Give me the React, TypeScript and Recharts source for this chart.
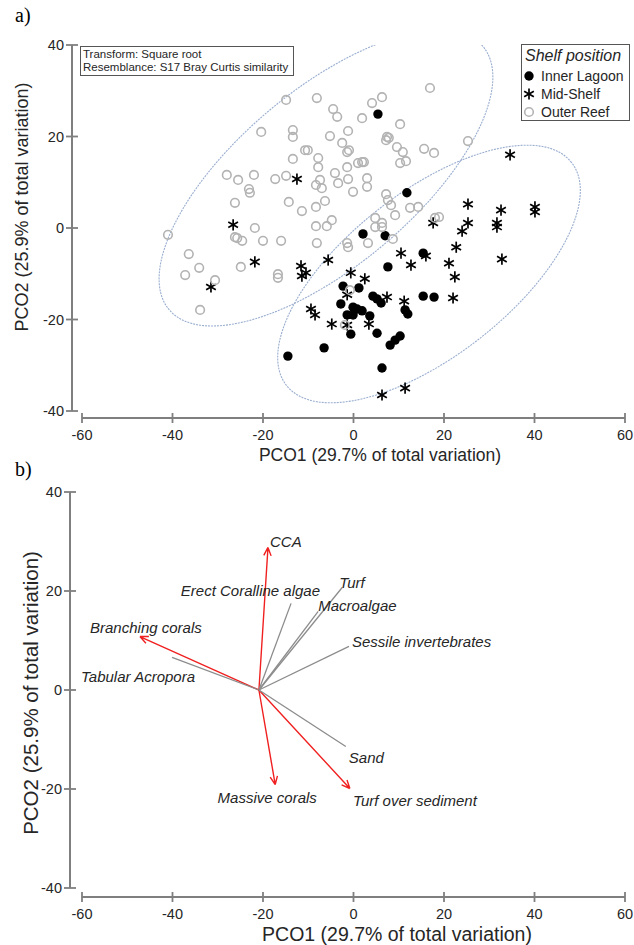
import React from 'react';
import { ComposedChart, Scatter, XAxis, YAxis, ReferenceLine } from 'recharts';

const xTicks = [-60, -40, -20, 0, 20, 40, 60];
const yTicks = [-40, -20, 0, 20, 40];

// panel a: PCO scores by shelf position
const innerLagoon: [number, number][] = [
  [5.4, 24.9], [11.8, 7.7], [2.1, -1.3], [7.0, -1.7], [15.4, -5.5], [7.6, -8.5],
  [-2.3, -12.7], [1.2, -13.1], [4.3, -14.9], [5.2, -15.5], [6.1, -16.4], [-2.8, -16.6],
  [-0.1, -17.3], [0.8, -17.7], [1.9, -18.1], [-1.4, -19.0], [-0.1, -19.0], [3.6, -19.2],
  [11.4, -17.9], [12.0, -18.8], [15.4, -14.9], [17.8, -15.1], [-0.6, -23.2], [5.2, -23.0],
  [8.1, -25.6], [9.2, -24.5], [10.3, -23.6], [-6.5, -26.2], [6.3, -30.6], [-14.5, -28.0],
];

const midShelf: [number, number][] = [
  [-12.5, 10.7], [-26.6, 0.7], [-21.8, -7.4], [-31.5, -12.9], [-11.6, -8.3], [-11.4, -10.5],
  [-10.5, -9.8], [-9.4, -17.7], [-8.5, -19.0], [-5.6, -7.0], [-0.6, -9.8], [2.5, -11.1],
  [-1.4, -14.6], [7.4, -15.1], [11.2, -16.0], [10.5, -5.5], [12.7, -8.1], [16.0, -6.1],
  [17.6, 1.1], [21.1, -7.7], [22.7, -4.2], [24.0, -0.7], [25.3, 1.1], [25.3, 5.2],
  [32.6, 3.9], [31.7, 1.1], [31.7, 0.2], [40.1, 4.6], [40.1, 3.5], [32.8, -6.8],
  [22.4, -10.7], [22.0, -15.3], [-4.8, -21.0], [3.4, -21.0], [-1.4, -21.2], [6.3, -36.5],
  [11.4, -35.0], [34.6, 16.0],
];

const outerReef: [number, number][] = [
  [-14.9, 28.0], [-8.1, 28.4], [-20.4, 21.0], [-13.4, 21.4], [-13.4, 19.9], [-10.7, 17.0],
  [-10.1, 17.0], [-13.4, 15.1], [-28.0, 11.6], [-25.5, 10.5], [-22.0, 11.6], [-17.3, 10.7],
  [-14.9, 11.4], [-8.3, 9.4], [-23.1, 8.5], [-22.9, 7.7], [-26.2, 5.5], [-14.3, 5.7],
  [-11.4, 3.7], [-8.3, 4.6], [-21.8, 0.0], [-8.3, 0.4], [-41.0, -1.5], [-4.5, 26.0],
  [-3.6, 24.3], [1.9, 24.0], [4.1, 27.3], [6.3, 28.6], [16.9, 30.6], [10.3, 22.7],
  [-1.2, 21.2], [-5.2, 20.1], [-2.5, 18.6], [-1.4, 16.6], [-1.0, 17.0], [7.4, 19.9],
  [7.8, 19.7], [7.2, 19.2], [9.6, 17.7], [10.9, 16.6], [10.3, 14.2], [11.6, 14.6],
  [15.6, 17.3], [17.8, 16.4], [25.3, 19.0], [-7.8, 15.3], [-7.8, 13.3], [-4.1, 12.0],
  [-1.4, 13.3], [1.0, 14.2], [1.9, 14.4], [2.3, 14.4], [3.0, 10.9], [-7.4, 10.5],
  [-7.0, 8.7], [-3.4, 9.8], [-1.2, 10.7], [-0.1, 7.9], [3.0, 9.0], [7.2, 7.4],
  [7.6, 6.1], [8.3, 5.0], [12.5, 4.4], [14.3, 4.6], [18.0, 2.2], [18.9, 2.4],
  [-6.3, 5.9], [-36.4, -5.7], [-37.2, -10.3], [-34.1, -8.7], [-30.6, -11.4], [-33.9, -17.9],
  [-26.2, -2.0], [-25.7, -2.2], [-24.6, -2.8], [-20.0, -2.8], [-16.0, -2.8], [-24.9, -8.5],
  [-16.7, -10.1], [-16.7, -10.9], [-8.1, -3.3], [-5.9, 0.4], [-4.8, 1.7], [-1.4, -3.3],
  [-1.2, -4.2], [3.2, -3.3], [4.8, 2.2], [6.3, 1.1], [4.8, 0.2], [6.3, 0.2],
  [9.2, 2.8], [8.7, -2.4], [-0.8, -13.6], [-1.9, -21.2],
];

// cluster ellipses: centre, end of major semi-axis, end of minor semi-axis
const ellipses: [number, number][][] = [
  [[-6.08, 10.93], [28.6, 39.7], [-18.6, 25.7]],
  [[16.69, -10.05], [48.2, 14.3], [5.52, 4.07]],
];

// panel b: vector overlay
const vectorOrigin: [number, number] = [-20.9, 0];
const vectors = [
  { name: 'CCA', x: -18.9, y: 28.8, sig: true },
  { name: 'Erect Coralline algae', x: -13.8, y: 17.5, sig: false },
  { name: 'Turf', x: -2.5, y: 20.7, sig: false },
  { name: 'Macroalgae', x: -7.8, y: 15.9, sig: false },
  { name: 'Sessile invertebrates', x: -1.0, y: 8.8, sig: false },
  { name: 'Branching corals', x: -47.2, y: 10.8, sig: true },
  { name: 'Tabular Acropora', x: -40.1, y: 6.6, sig: false },
  { name: 'Massive corals', x: -17.3, y: -19.1, sig: true },
  { name: 'Turf over sediment', x: -0.8, y: -19.9, sig: true },
  { name: 'Sand', x: -1.7, y: -11.4, sig: false },
];

const labelPlacement: Record<string, { dx: number; dy: number; anchor: string }> = {
  CCA: { dx: 2, dy: 0, anchor: 'start' },
  'Erect Coralline algae': { dx: 29, dy: -7, anchor: 'end' },
  Turf: { dx: -3, dy: 0, anchor: 'start' },
  Macroalgae: { dx: 0, dy: 0, anchor: 'start' },
  'Sessile invertebrates': { dx: 3, dy: 1, anchor: 'start' },
  'Branching corals': { dx: 6, dy: -4, anchor: 'middle' },
  'Tabular Acropora': { dx: -34, dy: 25, anchor: 'middle' },
  'Massive corals': { dx: -8, dy: 18, anchor: 'middle' },
  'Turf over sediment': { dx: 3, dy: 18, anchor: 'start' },
  Sand: { dx: 3, dy: 17, anchor: 'start' },
};

const FONT = '"Liberation Sans", Arial, sans-serif';
const AXIS = '#7f7f7f';
const INK = '#262626';
const RED = '#f02020';

const toPts = (arr: [number, number][]) => arr.map(([x, y]) => ({ x, y }));

// d3 curve: centre + two conjugate semi-axes -> closed ellipse (4 beziers)
const ellipseCurve = (ctx: any) => {
  let pts: number[][] = [];
  return {
    areaStart() {},
    areaEnd() {},
    lineStart() { pts = []; },
    point(x: number, y: number) { pts.push([x, y]); },
    lineEnd() {
      if (pts.length < 3) return;
      const [c, a, b] = pts;
      const u = [a[0] - c[0], a[1] - c[1]];
      const v = [b[0] - c[0], b[1] - c[1]];
      const P = (s: number, t: number) => [c[0] + s * u[0] + t * v[0], c[1] + s * u[1] + t * v[1]];
      const k = 0.5523;
      const q = [[1, 0], [0, 1], [-1, 0], [0, -1], [1, 0]];
      const s0 = P(1, 0);
      ctx.moveTo(s0[0], s0[1]);
      for (let i = 0; i < 4; i++) {
        const p = q[i], n = q[i + 1];
        const c1 = P(p[0] + k * n[0], p[1] + k * n[1]);
        const c2 = P(n[0] + k * p[0], n[1] + k * p[1]);
        const e = P(n[0], n[1]);
        ctx.bezierCurveTo(c1[0], c1[1], c2[0], c2[1], e[0], e[1]);
      }
      ctx.closePath();
    },
  };
};

const makeArrowCurve = (head: number) => (ctx: any) => {
  let pts: number[][] = [];
  return {
    areaStart() {},
    areaEnd() {},
    lineStart() { pts = []; },
    point(x: number, y: number) { pts.push([x, y]); },
    lineEnd() {
      if (pts.length < 2) return;
      const [a, b] = pts;
      ctx.moveTo(a[0], a[1]);
      ctx.lineTo(b[0], b[1]);
      if (head > 0) {
        const ang = Math.atan2(b[1] - a[1], b[0] - a[0]);
        for (const s of [-1, 1]) {
          const t = ang + Math.PI + s * 0.42;
          ctx.moveTo(b[0] + head * Math.cos(t), b[1] + head * Math.sin(t));
          ctx.lineTo(b[0], b[1]);
        }
      }
    },
  };
};
const arrowCurve = makeArrowCurve(9);
const segmentCurve = makeArrowCurve(0);

const XTick = (props: any) => {
  const { x, y, payload } = props;
  return (
    <g>
      <line x1={x} x2={x} y1={y - 5} y2={y + 5} stroke={AXIS} strokeWidth={1.8} />
      <text x={x} y={y + 22} textAnchor="middle" fontSize={14.5} fontFamily={FONT} fill={INK}>
        {payload.value}
      </text>
    </g>
  );
};

const YTick = (props: any) => {
  const { x, y, payload } = props;
  return (
    <g>
      <line x1={x - 6} x2={x + 6} y1={y} y2={y} stroke={AXIS} strokeWidth={1.8} />
      <text x={x - 8} y={y + 5} textAnchor="end" fontSize={14.5} fontFamily={FONT} fill={INK}>
        {payload.value}
      </text>
    </g>
  );
};

const OpenCircle = ({ cx, cy }: any) => (
  <circle cx={cx} cy={cy} r={4.3} fill="none" stroke="#b3b3b3" strokeWidth={1.6} />
);
const Dot = ({ cx, cy }: any) => <circle cx={cx} cy={cy} r={4.7} fill="#000" />;
const Star = ({ cx, cy }: any) => {
  const r = 5.6;
  const dx = r * Math.cos(Math.PI / 6);
  const dy = r * Math.sin(Math.PI / 6);
  return (
    <g stroke="#000" strokeWidth={1.7}>
      <line x1={cx} y1={cy - r} x2={cx} y2={cy + r} />
      <line x1={cx - dx} y1={cy - dy} x2={cx + dx} y2={cy + dy} />
      <line x1={cx - dx} y1={cy + dy} x2={cx + dx} y2={cy - dy} />
    </g>
  );
};
const Hidden = () => <g />;

const VectorLabel = (p: any) => {
  const name = p.payload && p.payload.name;
  if (!name) return <g />;
  const pl = labelPlacement[name];
  return (
    <text
      x={p.cx + pl.dx}
      y={p.cy + pl.dy}
      textAnchor={pl.anchor as any}
      fontSize={15}
      fontStyle="italic"
      fontFamily={FONT}
      fill={INK}
    >
      {name}
    </text>
  );
};

const axisProps = {
  type: 'number' as const,
  allowDataOverflow: true,
  axisLine: false,
  tickLine: false,
  tickSize: 0,
  tickMargin: 0,
  interval: 0 as const,
};

const A_X: [number, number] = [-62.21, 60];
const A_Y: [number, number] = [-41.53, 40];
const B_X: [number, number] = [-62.65, 60];
const B_Y: [number, number] = [-41.82, 40];

const legendItems = [
  { label: 'Inner Lagoon', Marker: Dot },
  { label: 'Mid-Shelf', Marker: Star },
  { label: 'Outer Reef', Marker: OpenCircle },
];

export default function App() {
  return (
    <div style={{ position: 'absolute', left: 0, top: 0, width: 634, height: 945, background: '#fff', fontFamily: FONT }}>
      <div style={{ position: 'absolute', left: 0, top: 0 }}>
        <ComposedChart width={634} height={465} margin={{ top: 45, right: 9, bottom: 17, left: 32 }}>
          <XAxis {...axisProps} dataKey="x" domain={A_X} ticks={xTicks} height={30} tick={<XTick />} />
          <YAxis {...axisProps} dataKey="y" domain={A_Y} ticks={yTicks} width={40} tick={<YTick />} />
          <ReferenceLine segment={[{ x: A_X[0], y: -40 }, { x: A_X[0], y: 40 }]} stroke={AXIS} strokeWidth={2} ifOverflow="visible" />
          <ReferenceLine segment={[{ x: -60, y: A_Y[0] }, { x: 60, y: A_Y[0] }]} stroke={AXIS} strokeWidth={2} ifOverflow="visible" />
          {ellipses.map((e, i) => (
            <Scatter
              key={`ell-${i}`}
              data={toPts(e as [number, number][])}
              shape={<Hidden />}
              line={{ stroke: '#9aaed0', strokeWidth: 1.1, strokeDasharray: '2 1' }}
              lineJointType={ellipseCurve as any}
              isAnimationActive={false}
            />
          ))}
          <Scatter name="Inner Lagoon" data={toPts(innerLagoon)} shape={<Dot />} isAnimationActive={false} />
          <Scatter name="Mid-Shelf" data={toPts(midShelf)} shape={<Star />} isAnimationActive={false} />
          <Scatter name="Outer Reef" data={toPts(outerReef)} shape={<OpenCircle />} isAnimationActive={false} />
        </ComposedChart>
      </div>

      <div style={{ position: 'absolute', left: 0, top: 465 }}>
        <ComposedChart width={634} height={480} margin={{ top: 27, right: 9, bottom: 18, left: 30 }}>
          <XAxis {...axisProps} dataKey="x" domain={B_X} ticks={xTicks} height={30} tick={<XTick />} />
          <YAxis {...axisProps} dataKey="y" domain={B_Y} ticks={yTicks} width={40} tick={<YTick />} />
          <ReferenceLine segment={[{ x: B_X[0], y: -40 }, { x: B_X[0], y: 40 }]} stroke={AXIS} strokeWidth={2} ifOverflow="visible" />
          <ReferenceLine segment={[{ x: -60, y: B_Y[0] }, { x: 60, y: B_Y[0] }]} stroke={AXIS} strokeWidth={2} ifOverflow="visible" />
          {vectors.map((v) => (
            <Scatter
              key={v.name}
              data={[
                { x: vectorOrigin[0], y: vectorOrigin[1] },
                { x: v.x, y: v.y, name: v.name },
              ]}
              shape={<VectorLabel />}
              line={{ stroke: v.sig ? RED : '#8c8c8c', strokeWidth: v.sig ? 1.4 : 1.3 }}
              lineJointType={(v.sig ? arrowCurve : segmentCurve) as any}
              isAnimationActive={false}
            />
          ))}
        </ComposedChart>
      </div>

      <svg width={634} height={945} style={{ position: 'absolute', left: 0, top: 0, pointerEvents: 'none' }}>
        <text x={15} y={22} fontSize={20} fontFamily='"Liberation Serif", "Times New Roman", serif' fill="#000">a)</text>
        <text x={15} y={476} fontSize={20} fontFamily='"Liberation Serif", "Times New Roman", serif' fill="#000">b)</text>

        <g transform="translate(80,46)">
          <rect x={0.5} y={0.5} width={213} height={29} fill="#fff" stroke="#555" strokeWidth={1} />
          <text x={3} y={11.5} fontSize={11.5} fontFamily={FONT} fill={INK}>Transform: Square root</text>
          <text x={3} y={24.5} fontSize={11.5} fontFamily={FONT} fill={INK}>Resemblance: S17 Bray Curtis similarity</text>
        </g>

        <g transform="translate(521,44)">
          <rect x={0.5} y={0.5} width={108} height={76} fill="#fff" stroke="#555" strokeWidth={1} />
          <text x={4} y={17} fontSize={16} fontStyle="italic" fontFamily={FONT} fill={INK}>Shelf position</text>
          {legendItems.map((it, i) => (
            <g key={it.label}>
              <it.Marker cx={8} cy={32 + i * 18} />
              <text x={20} y={37 + i * 18} fontSize={14} fontFamily={FONT} fill={INK}>{it.label}</text>
            </g>
          ))}
        </g>

        <text x={380} y={461} textAnchor="middle" fontSize={17.5} fontFamily={FONT} fill={INK}>
          PCO1 (29.7% of total variation)
        </text>
        <text transform="translate(28,207) rotate(-90)" textAnchor="middle" fontSize={18} fontFamily={FONT} fill={INK}>
          PCO2 (25.9% of total variation)
        </text>
        <text x={397} y={941} textAnchor="middle" fontSize={19.5} fontFamily={FONT} fill={INK}>
          PCO1 (29.7% of total variation)
        </text>
        <text transform="translate(38,693) rotate(-90)" textAnchor="middle" fontSize={20.5} fontFamily={FONT} fill={INK}>
          PCO2 (25.9% of total variation)
        </text>
      </svg>
    </div>
  );
}
